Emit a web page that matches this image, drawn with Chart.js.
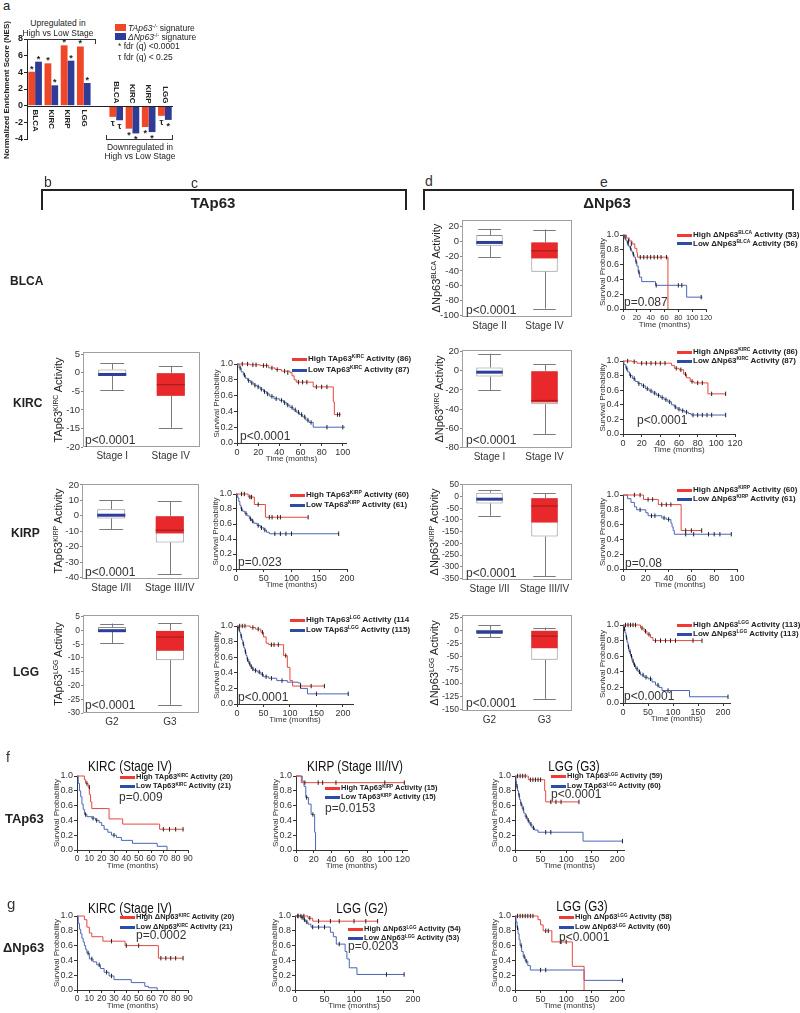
<!DOCTYPE html>
<html><head><meta charset="utf-8">
<script src="https://cdn.jsdelivr.net/npm/chart.js@4.4.0/dist/chart.umd.min.js"></script>
<style>
html,body{margin:0;padding:0;background:#fff;}
#root{position:relative;width:800px;height:1013px;overflow:hidden;font-family:"Liberation Sans",Arial,sans-serif;color:#222;background:#fff;}
canvas{position:absolute;}
.t{position:absolute;white-space:nowrap;line-height:1;}
.t sup{font-size:0.62em;vertical-align:0.55em;line-height:0;}
.br{position:absolute;box-sizing:border-box;}
</style></head><body><div id="root"></div>
<script>
// ---------------- DATA ----------------
// Panel a: NES bars
const nesCats = ['BLCA','KIRC','KIRP','LGG','','BLCA','KIRC','KIRP','LGG'];
const nesTA   = [4.07, 5.08, 7.24, 7.1, null, -1.34, -2.76, -2.56, -1.22];
const nesDN   = [5.28, 2.44, 5.4, 2.72, null, -1.75, -3.33, -3.17, -1.71];
const nesSigTA = ['*','*','*','*','','τ','*','*','τ'];
const nesSigDN = ['*','*','*','*','','τ','*','*','*'];
const nesTicks = [8,6,4,2,0,-2,-4];

// Box plots (q1, q3, median, whisker low/high, lower edge of red fill)
const tapKircLabels = ['Stage I','Stage IV'];
const tapKircQ1 = [-0.9,-6.2], tapKircQ3 = [0.9,0], tapKircMed = [-0.45,-3.2], tapKircLo = [-4.6,-14.8], tapKircHi = [2.6,1.9], tapKircFill = [null,-6.2];
const tapKircTicks = [5,0,-5,-10,-15,-20];

const tapKirpLabels = ['Stage I/II','Stage III/IV'];
const tapKirpQ1 = [-1.7,-17.2], tapKirpQ3 = [4.3,0], tapKirpMed = [0.4,-9.3], tapKirpLo = [-8.5,-37.8], tapKirpHi = [10,9.5], tapKirpFill = [null,-11.4];
const tapKirpTicks = [20,10,0,-10,-20,-30,-40];

const tapLggLabels = ['G2','G3'];
const tapLggQ1 = [-0.5,-10.8], tapLggQ3 = [1.2,0], tapLggMed = [-0.1,-2.4], tapLggLo = [-4.6,-27], tapLggHi = [2.5,2.7], tapLggFill = [null,-7.4];
const tapLggTicks = [5,0,-5,-10,-15,-20,-25,-30];

const dnBlcaLabels = ['Stage II','Stage IV'];
const dnBlcaQ1 = [-5.9,-41], dnBlcaQ3 = [8.6,-1.4], dnBlcaMed = [-1.4,-12.7], dnBlcaLo = [-21,-91], dnBlcaHi = [17,16], dnBlcaFill = [null,-23];
const dnBlcaTicks = [20,0,-20,-40,-60,-80,-100];

const dnKircLabels = ['Stage I','Stage IV'];
const dnKircQ1 = [-6,-35], dnKircQ3 = [3.5,0], dnKircMed = [-1.4,-31], dnKircLo = [-20,-66], dnKircHi = [18,7], dnKircFill = [null,-33];
const dnKircTicks = [20,0,-20,-40,-60,-80];

const dnKirpLabels = ['Stage I/II','Stage III/IV'];
const dnKirpQ1 = [-29,-171], dnKirpQ3 = [17,-7], dnKirpMed = [-11,-40], dnKirpLo = [-82,-340], dnKirpHi = [29,14], dnKirpFill = [null,-111];
const dnKirpTicks = [50,0,-50,-100,-150,-200,-250,-300,-350];

const dnLggLabels = ['G2','G3'];
const dnLggQ1 = [-7,-56], dnLggQ3 = [1,0], dnLggMed = [-3,-11], dnLggLo = [-13,-130], dnLggHi = [10,5], dnLggFill = [null,-34];
const dnLggTicks = [25,0,-25,-50,-75,-100,-125,-150];

// Kaplan-Meier curves: [time, survival]; censor marks: [time, survival]
const kmYTicks = [0,0.2,0.4,0.6,0.8,1.0];
const t0to120by20 = [0,20,40,60,80,100,120];
const t0to100by20 = [0,20,40,60,80,100];
const t0to200by50 = [0,50,100,150,200];
const t0to90by10 = [0,10,20,30,40,50,60,70,80,90];

const blcaDnHi = [[0,1],[5,0.96],[9,0.92],[13,0.88],[17,0.82],[20,0.76],[21,0.70],[65,0.70],[65,0]];
const blcaDnHiC = [[8,0.92],[12,0.88],[25,0.70],[30,0.70],[35,0.70],[40,0.70],[45,0.70],[50,0.70],[55,0.70],[63,0.70]];
const blcaDnLo = [[0,1],[2,0.97],[4,0.93],[6,0.89],[8,0.85],[10,0.82],[12,0.78],[14,0.74],[16,0.70],[18,0.64],[20,0.58],[22,0.50],[24,0.43],[27,0.37],[46,0.37],[47,0.32],[92,0.32],[92,0.16],[115,0.16]];
const blcaDnLoC = [[3,0.97],[7,0.89],[11,0.82],[15,0.74],[19,0.64],[23,0.5],[48,0.32],[80,0.32],[85,0.32],[113,0.16]];

const kircTaHi = [[0,1],[12,0.99],[22,0.98],[30,0.95],[36,0.93],[42,0.91],[50,0.89],[52,0.85],[54,0.8],[56,0.77],[70,0.77],[72,0.71],[90,0.71],[91,0.52],[92,0.36],[98,0.36]];
const kircTaHiC = [[5,1],[10,1],[15,0.99],[18,0.99],[25,0.98],[28,0.98],[33,0.95],[38,0.93],[45,0.91],[48,0.89],[58,0.77],[62,0.77],[66,0.77],[75,0.71],[80,0.71],[85,0.71],[95,0.36],[97,0.36]];
const kircTaLo = [[0,1],[2,0.95],[4,0.9],[6,0.86],[8,0.82],[10,0.79],[13,0.76],[16,0.73],[19,0.71],[22,0.68],[25,0.65],[28,0.62],[31,0.59],[35,0.56],[40,0.54],[44,0.51],[47,0.48],[50,0.45],[53,0.42],[56,0.39],[59,0.36],[62,0.33],[65,0.29],[68,0.26],[72,0.20],[102,0.20]];
const kircTaLoC = [[3,0.95],[7,0.86],[11,0.79],[14,0.76],[17,0.73],[20,0.71],[23,0.68],[26,0.65],[29,0.62],[33,0.59],[37,0.56],[42,0.54],[45,0.51],[48,0.48],[52,0.45],[55,0.42],[58,0.39],[61,0.36],[64,0.33],[67,0.29],[70,0.26],[85,0.2],[100,0.2]];

const kircDnHi = [[0,1],[10,0.99],[15,0.97],[48,0.97],[52,0.94],[55,0.9],[60,0.88],[65,0.82],[68,0.77],[72,0.72],[76,0.7],[90,0.7],[91,0.55],[110,0.55]];
const kircDnHiC = [[5,1],[12,0.99],[20,0.97],[25,0.97],[30,0.97],[35,0.97],[40,0.97],[45,0.97],[57,0.9],[62,0.88],[67,0.82],[74,0.72],[80,0.7],[85,0.7],[95,0.55],[110,0.55]];
const kircDnLo = [[0,1],[1,0.95],[3,0.9],[5,0.85],[7,0.8],[10,0.76],[13,0.72],[16,0.69],[20,0.66],[24,0.62],[28,0.59],[32,0.56],[36,0.53],[40,0.5],[44,0.47],[48,0.44],[52,0.4],[55,0.37],[58,0.34],[62,0.32],[66,0.3],[70,0.28],[73,0.26],[110,0.26]];
const kircDnLoC = [[4,0.9],[8,0.8],[12,0.76],[17,0.69],[22,0.66],[26,0.62],[30,0.59],[34,0.56],[38,0.53],[42,0.5],[46,0.47],[50,0.44],[56,0.37],[60,0.34],[64,0.32],[68,0.3],[75,0.26],[80,0.26],[85,0.26],[90,0.26],[95,0.26],[110,0.26]];

const kirpTaHi = [[0,1],[20,1],[22,0.96],[32,0.96],[33,0.86],[52,0.86],[53,0.69],[130,0.69]];
const kirpTaHiC = [[10,1],[15,1],[25,0.96],[28,0.96],[40,0.86],[60,0.69],[65,0.69],[75,0.69],[80,0.69],[130,0.69]];
const kirpTaLo = [[0,1],[3,0.95],[5,0.9],[7,0.85],[9,0.8],[12,0.77],[16,0.74],[20,0.71],[24,0.67],[28,0.64],[32,0.61],[38,0.58],[44,0.55],[50,0.52],[55,0.49],[60,0.47],[185,0.47]];
const kirpTaLoC = [[10,0.8],[18,0.74],[26,0.67],[30,0.64],[40,0.58],[46,0.55],[52,0.52],[70,0.47],[80,0.47],[90,0.47],[100,0.47],[185,0.47]];

const kirpDnHi = [[0,1],[17,1],[18,0.94],[30,0.94],[31,0.87],[50,0.87],[51,0.52],[69,0.52]];
const kirpDnHiC = [[10,1],[15,1],[22,0.94],[26,0.94],[34,0.87],[38,0.87],[42,0.87],[55,0.52],[60,0.52],[69,0.52]];
const kirpDnLo = [[0,1],[4,0.95],[7,0.9],[10,0.84],[12,0.8],[18,0.8],[20,0.76],[22,0.72],[30,0.72],[34,0.69],[38,0.67],[42,0.62],[43,0.57],[44,0.52],[45,0.47],[95,0.47]];
const kirpDnLoC = [[15,0.8],[25,0.72],[28,0.72],[36,0.69],[40,0.67],[55,0.47],[62,0.47],[75,0.47],[80,0.47],[85,0.47],[95,0.47]];

const lggTaHi = [[0,1],[20,1],[25,0.98],[35,0.96],[45,0.92],[50,0.86],[55,0.78],[60,0.76],[85,0.76],[88,0.62],[95,0.47],[100,0.3],[105,0.23],[165,0.23]];
const lggTaHiC = [[5,1],[10,1],[15,1],[30,0.98],[40,0.96],[48,0.92],[65,0.76],[70,0.76],[78,0.76],[92,0.62],[120,0.23],[140,0.23],[165,0.23]];
const lggTaLo = [[0,1],[3,0.96],[5,0.92],[7,0.87],[9,0.82],[11,0.77],[13,0.72],[15,0.67],[17,0.62],[19,0.57],[22,0.52],[25,0.48],[28,0.45],[32,0.43],[38,0.41],[45,0.38],[50,0.35],[60,0.33],[75,0.3],[95,0.28],[115,0.27],[120,0.2],[133,0.13],[210,0.13]];
const lggTaLoC = [[4,0.96],[8,0.87],[12,0.77],[16,0.67],[20,0.57],[24,0.52],[27,0.48],[30,0.45],[35,0.43],[42,0.41],[48,0.38],[55,0.35],[65,0.33],[85,0.3],[150,0.13],[210,0.13]];

const lggDnHi = [[0,1],[30,1],[35,0.96],[42,0.92],[48,0.88],[55,0.84],[60,0.8],[158,0.8]];
const lggDnHiC = [[5,1],[10,1],[15,1],[20,1],[25,1],[38,0.96],[45,0.92],[52,0.88],[65,0.8],[75,0.8],[85,0.8],[95,0.8],[105,0.8],[140,0.8],[158,0.8]];
const lggDnLo = [[0,1],[2,0.95],[4,0.9],[6,0.84],[8,0.78],[10,0.72],[12,0.66],[15,0.6],[18,0.54],[21,0.49],[25,0.44],[30,0.4],[35,0.36],[42,0.33],[50,0.31],[58,0.27],[65,0.23],[72,0.2],[78,0.16],[133,0.16],[133,0.08],[210,0.08]];
const lggDnLoC = [[3,0.95],[7,0.84],[11,0.72],[14,0.66],[17,0.6],[20,0.54],[23,0.49],[28,0.44],[33,0.4],[40,0.36],[46,0.33],[55,0.31],[70,0.23],[90,0.16],[210,0.08]];

const fKircHi = [[0,1],[5,1],[6,0.95],[7,0.9],[9,0.85],[10,0.75],[11,0.65],[12,0.56],[25,0.56],[26,0.42],[36,0.42],[37,0.35],[66,0.35],[67,0.28],[86,0.28]];
const fKircHiC = [[8,0.9],[10,0.85],[70,0.28],[75,0.28],[80,0.28],[86,0.28]];
const fKircLo = [[0,1],[1,0.9],[2,0.8],[3,0.72],[4,0.62],[5,0.55],[6,0.48],[8,0.45],[12,0.43],[15,0.4],[18,0.37],[20,0.33],[22,0.28],[25,0.24],[28,0.2],[32,0.17],[36,0.13],[45,0.09],[65,0.05],[73,0]];
const fKircLoC = [[7,0.48],[13,0.43],[16,0.4],[30,0.2]];

const fKirpHi = [[0,1],[5,1],[6,0.91],[122,0.91]];
const fKirpHiC = [[10,0.91],[25,0.91],[30,0.91],[45,0.91],[100,0.91],[122,0.91]];
const fKirpLo = [[0,1],[6,1],[7,0.93],[9,0.86],[11,0.71],[14,0.62],[17,0.48],[21,0.48],[21,0.24],[22,0]];
const fKirpLoC = [[12,0.71],[19,0.48]];

const fLggHi = [[0,1],[25,1],[26,0.95],[56,0.95],[58,0.8],[60,0.65],[125,0.65]];
const fLggHiC = [[5,1],[10,1],[15,1],[20,1],[30,0.95],[35,0.95],[40,0.95],[45,0.95],[50,0.95],[70,0.65],[80,0.65],[90,0.65],[125,0.65]];
const fLggLo = [[0,1],[2,0.93],[3,0.86],[5,0.8],[7,0.74],[9,0.68],[11,0.62],[14,0.56],[17,0.5],[20,0.45],[24,0.4],[28,0.35],[33,0.3],[38,0.27],[45,0.24],[133,0.24],[133,0.12],[210,0.12]];
const fLggLoC = [[4,0.86],[8,0.74],[12,0.62],[16,0.56],[22,0.45],[26,0.4],[31,0.35],[36,0.3],[60,0.24],[70,0.24],[210,0.12]];

const gKircHi = [[0,1],[5,1],[6,0.95],[8,0.85],[10,0.77],[12,0.72],[20,0.72],[21,0.66],[38,0.66],[39,0.6],[65,0.6],[66,0.43],[86,0.43]];
const gKircHiC = [[28,0.66],[40,0.6],[50,0.6],[68,0.43],[72,0.43],[76,0.43],[80,0.43],[86,0.43]];
const gKircLo = [[0,1],[1,0.9],[2,0.82],[3,0.76],[4,0.7],[5,0.65],[6,0.6],[7,0.55],[8,0.5],[10,0.42],[13,0.38],[16,0.34],[19,0.29],[22,0.24],[26,0.19],[30,0.14],[44,0.1],[55,0.05],[58,0.03],[65,0]];
const gKircLoC = [[9,0.5],[12,0.42],[18,0.34],[24,0.24],[28,0.19]];

const gLgg2Hi = [[0,1],[20,1],[22,0.97],[30,0.93],[140,0.93]];
const gLgg2HiC = [[5,1],[10,1],[15,1],[25,0.97],[40,0.93],[60,0.93],[75,0.93],[100,0.93],[120,0.93],[140,0.93]];
const gLgg2Lo = [[0,1],[10,0.98],[14,0.95],[18,0.92],[22,0.89],[27,0.85],[55,0.85],[60,0.78],[65,0.72],[70,0.62],[85,0.52],[88,0.42],[92,0.3],[105,0.21],[185,0.21]];
const gLgg2LoC = [[5,1],[12,0.98],[16,0.95],[20,0.92],[30,0.85],[40,0.85],[50,0.85],[75,0.62],[155,0.21],[185,0.21]];

const gLgg3Hi = [[0,1],[42,1],[45,0.95],[50,0.88],[55,0.8],[70,0.8],[72,0.65],[110,0.65],[112,0.32],[135,0.32],[135,0]];
const gLgg3HiC = [[5,1],[10,1],[15,1],[20,1],[25,1],[30,1],[35,1],[60,0.8],[65,0.8],[90,0.65],[100,0.65]];
const gLgg3Lo = [[0,1],[2,0.92],[4,0.84],[6,0.76],[8,0.68],[10,0.6],[13,0.52],[16,0.45],[20,0.39],[25,0.33],[30,0.27],[135,0.27],[135,0.13],[210,0.13]];
const gLgg3LoC = [[5,0.84],[12,0.6],[18,0.45],[22,0.39],[50,0.27],[60,0.27],[210,0.13]];

// ---------------- STYLE ----------------
const FONT = '"Liberation Sans", Arial, sans-serif';
Chart.defaults.font.family = FONT;
Chart.defaults.color = '#333';
const BAR_RED = '#ef4727', BAR_BLUE = '#2e3b97';
const BOX_RED = '#e8282b', MED_BLUE = '#2d3d9c', MED_RED = '#a81e1e';
const KM_RED = '#e8463e', KM_BLUE = '#4a66b8';
const LEG_RED = '#f03a34', LEG_BLUE = '#2c4ca8';
const root = document.getElementById('root');

function mk(area, dims, cfg){
  const yW = dims.yW, xH = dims.xH, padR = dims.padR ?? 14, padT = dims.padT ?? 8, padB = dims.padB ?? 0;
  const w = Math.round(area.r - area.l + yW + padR);
  const h = Math.round(area.b - area.t + padT + xH + padB);
  const c = document.createElement('canvas');
  c.width = w; c.height = h;
  c.style.left = (area.l - yW) + 'px'; c.style.top = (area.t - padT) + 'px';
  c.style.width = w + 'px'; c.style.height = h + 'px';
  root.appendChild(c);
  const o = cfg.options;
  o.responsive = false; o.animation = false; o.devicePixelRatio = 1; o.events = [];
  o.layout = {padding:{left:0, right:padR, top:padT, bottom:padB}};
  o.plugins = Object.assign({legend:{display:false}, tooltip:{enabled:false}}, o.plugins || {});
  if (o.scales.x.display !== false) o.scales.x.afterFit = s => { s.height = xH; };
  o.scales.y.afterFit = s => { s.width = yW; };
  return new Chart(c, cfg);
}
function setTicks(vals){ return s => { s.ticks = vals.map(v => ({value:v})); }; }
function seg(ctx, x1, y1, x2, y2){ ctx.beginPath(); ctx.moveTo(x1, y1); ctx.lineTo(x2, y2); ctx.stroke(); }

// ---------------- text helpers ----------------
function T(html, x, y, o){
  o = o || {};
  const d = document.createElement('div'); d.className = 't'; d.innerHTML = html;
  d.style.fontSize = (o.s || 10) + 'px';
  if (o.b) d.style.fontWeight = 'bold';
  if (o.c) d.style.color = o.c;
  d.style.left = x + 'px'; d.style.top = y + 'px';
  let tr = o.a === 'c' ? 'translate(-50%,-50%)' : 'translate(0,-50%)';
  if (o.rot) tr = 'translate(-50%,-50%) rotate(-90deg)';
  if (o.sx) tr += ' scaleX(' + o.sx + ')';
  d.style.transform = tr;
  root.appendChild(d);
}
function box(l, t, w, h, css){ const d = document.createElement('div'); d.className = 'br';
  d.style.cssText += `left:${l}px;top:${t}px;width:${w}px;height:${h}px;` + css; root.appendChild(d); }
function leg(x, y, col, html, sz){ box(x, y - 1.5, 15, 3, 'background:' + col + ';'); T(html, x + 16, y, {s: sz || 8, b: true, c:'#222'}); }

// ---------------- Panel a ----------------
const nesPlugin = {id:'nes', afterDatasetsDraw(ch){
  const ctx = ch.ctx, xs = ch.scales.x, ys = ch.scales.y, ca = ch.chartArea;
  const y0 = Math.round(ys.getPixelForValue(0)) + 0.5;
  ctx.save();
  ctx.strokeStyle = '#222'; ctx.lineWidth = 1; seg(ctx, ca.left, y0, ca.right, y0);
  ctx.fillStyle = '#222';
  nesCats.forEach((c, i) => {
    if (!c) return;
    const cx = xs.getPixelForValue(i), up = nesTA[i] > 0;
    ctx.save(); ctx.translate(cx, y0); ctx.rotate(Math.PI/2);
    ctx.font = 'bold 8px ' + FONT; ctx.textBaseline = 'middle';
    if (up) { ctx.textAlign = 'left'; ctx.fillText(c, 3, 0); } else { ctx.textAlign = 'right'; ctx.fillText(c, -3, 0); }
    ctx.restore();
    [0,1].forEach(d => {
      const bar = ch.getDatasetMeta(d).data[i]; const sym = (d ? nesSigDN : nesSigTA)[i];
      ctx.font = 'bold 9px ' + FONT; ctx.textAlign = 'center';
      if (up) { ctx.textBaseline = 'bottom'; ctx.fillText(sym, bar.x, bar.y + 2); }
      else { ctx.textBaseline = 'top'; ctx.fillText(sym, bar.x, bar.y + 2); }
    });
  });
  ctx.restore();
}};
mk({l:27, r:173, t:39, b:139}, {yW:27, xH:0, padR:4, padT:8, padB:8}, {type:'bar',
  data:{labels:nesCats, datasets:[
    {data:nesTA, backgroundColor:BAR_RED, barPercentage:1, categoryPercentage:0.84},
    {data:nesDN, backgroundColor:BAR_BLUE, barPercentage:1, categoryPercentage:0.84}]},
  options:{scales:{
    x:{display:false},
    y:{min:-4, max:8, afterBuildTicks:setTicks(nesTicks),
       ticks:{font:{size:9, weight:'bold'}, padding:1, color:'#222', autoSkip:false},
       grid:{display:true, drawOnChartArea:false, tickLength:3, color:'#222'}, border:{display:true, color:'#222'}}}},
  plugins:[nesPlugin]});

T('a', 3, 5, {s:13});
T('Normalized Enrichment Score (NES)', 7, 90, {s:8, b:true, rot:true});
T('Upregulated in', 58, 23, {s:8.5, a:'c'});
T('High vs Low Stage', 58, 33, {s:8.5, a:'c'});
box(27, 39, 69, 5, 'border:1px solid #333;border-bottom:none;');
box(106, 135, 67, 5, 'border:1px solid #333;border-top:none;');
T('Downregulated in', 140, 147, {s:8.5, a:'c'});
T('High vs Low Stage', 140, 156, {s:8.5, a:'c'});
box(115, 24, 11, 7, 'background:' + BAR_RED + ';');
box(115, 33, 11, 7, 'background:' + BAR_BLUE + ';');
T('<i>TAp63</i><sup>-/-</sup> signature', 128, 27.5, {s:8.5});
T('<i>ΔNp63</i><sup>-/-</sup> signature', 128, 36.5, {s:8.5});
T('* fdr (q) &lt;0.0001', 118, 46, {s:8.5});
T('τ fdr (q) &lt; 0.25', 118, 57, {s:8.5});

// ---------------- headers ----------------
T('b', 44, 182, {s:14, c:'#333'});
T('c', 191, 183, {s:14, c:'#333'});
T('d', 425, 181, {s:14, c:'#333'});
T('e', 600, 182, {s:14, c:'#333'});
box(41, 189, 366, 21, 'border:2px solid #222;border-bottom:none;');
box(423, 189, 371, 21, 'border:2px solid #222;border-bottom:none;');
T('TAp63', 213, 202, {s:15, b:true, a:'c', c:'#222'});
T('ΔNp63', 607, 202, {s:15, b:true, a:'c', c:'#222'});

T('BLCA', 10, 281, {s:12, b:true});
T('KIRC', 13, 403, {s:12, b:true});
T('KIRP', 11, 533, {s:12, b:true});
T('LGG', 13, 672, {s:12, b:true});

// ---------------- box plots ----------------
function boxPlugin(s){ return {id:'boxx', afterDatasetsDraw(ch){
  const ctx = ch.ctx, ys = ch.scales.y, ca = ch.chartArea, meta = ch.getDatasetMeta(0);
  const py = v => ys.getPixelForValue(v);
  ctx.save();
  s.labels.forEach((lab, i) => {
    const b = meta.data[i], cx = Math.round(b.x) + 0.5, hw = b.width / 2;
    ctx.strokeStyle = '#7a7a7a'; ctx.lineWidth = 1;
    seg(ctx, cx, py(s.q3[i]), cx, py(s.hi[i]));
    seg(ctx, cx, py(s.q1[i]), cx, py(s.lo[i]));
    const yh = Math.round(py(s.hi[i])) + 0.5, yl = Math.round(py(s.lo[i])) + 0.5;
    seg(ctx, b.x - hw * 0.85, yh, b.x + hw * 0.85, yh);
    seg(ctx, b.x - hw * 0.85, yl, b.x + hw * 0.85, yl);
    ctx.strokeStyle = i === 0 ? MED_BLUE : MED_RED; ctx.lineWidth = i === 0 ? 3 : 1.2;
    seg(ctx, b.x - hw, py(s.med[i]), b.x + hw, py(s.med[i]));
  });
  ctx.strokeStyle = '#a0a0a0'; ctx.lineWidth = 1;
  ctx.strokeRect(ca.left + 0.5, ca.top + 0.5, ca.right - ca.left - 1, ca.bottom - ca.top - 1);
  ctx.restore();
}};}
function boxChart(s){
  const fs = s.ticks.length > 7 ? 8.5 : 9.5;
  mk(s.area, {yW:24, xH:18, padR:6, padT:8, padB:2}, {type:'bar',
    data:{labels:s.labels, datasets:[
      {data:s.labels.map((_, i) => [s.q1[i], s.q3[i]]), backgroundColor:'#fff', borderColor:'#8c8c8c', borderWidth:1, borderSkipped:false, grouped:false, barPercentage:0.48, categoryPercentage:1, order:2},
      {data:s.labels.map((_, i) => s.fill[i] === null ? null : [s.fill[i], s.q3[i]]), backgroundColor:BOX_RED, borderWidth:0, grouped:false, barPercentage:0.48, categoryPercentage:1, order:1}]},
    options:{scales:{
      x:{ticks:{font:{size:10}, padding:3, autoSkip:false, maxRotation:0, color:'#333'}, grid:{display:false, drawTicks:false}, border:{display:false}},
      y:{min:s.min, max:s.max, afterBuildTicks:setTicks(s.ticks), ticks:{font:{size:fs}, padding:1, autoSkip:false, color:'#333'},
         grid:{display:true, drawOnChartArea:false, tickLength:2, color:'#888'}, border:{display:false}}}},
    plugins:[boxPlugin(s)]});
}
boxChart({area:{l:83, r:200, t:352, b:447}, min:-20, max:5.6, ticks:tapKircTicks, labels:tapKircLabels, q1:tapKircQ1, q3:tapKircQ3, med:tapKircMed, lo:tapKircLo, hi:tapKircHi, fill:tapKircFill});
boxChart({area:{l:82, r:199, t:484, b:579}, min:-40.9, max:20.6, ticks:tapKirpTicks, labels:tapKirpLabels, q1:tapKirpQ1, q3:tapKirpQ3, med:tapKirpMed, lo:tapKirpLo, hi:tapKirpHi, fill:tapKirpFill});
boxChart({area:{l:83, r:199, t:615, b:713}, min:-30, max:5.6, ticks:tapLggTicks, labels:tapLggLabels, q1:tapLggQ1, q3:tapLggQ3, med:tapLggMed, lo:tapLggLo, hi:tapLggHi, fill:tapLggFill});
boxChart({area:{l:462, r:572, t:220, b:317}, min:-102.3, max:29, ticks:dnBlcaTicks, labels:dnBlcaLabels, q1:dnBlcaQ1, q3:dnBlcaQ3, med:dnBlcaMed, lo:dnBlcaLo, hi:dnBlcaHi, fill:dnBlcaFill});
boxChart({area:{l:462, r:572, t:350, b:448}, min:-80.7, max:21.8, ticks:dnKircTicks, labels:dnKircLabels, q1:dnKircQ1, q3:dnKircQ3, med:dnKircMed, lo:dnKircLo, hi:dnKircHi, fill:dnKircFill});
boxChart({area:{l:462, r:572, t:484, b:580}, min:-357, max:54, ticks:dnKirpTicks, labels:dnKirpLabels, q1:dnKirpQ1, q3:dnKirpQ3, med:dnKirpMed, lo:dnKirpLo, hi:dnKirpHi, fill:dnKirpFill});
boxChart({area:{l:462, r:572, t:615, b:711}, min:-153, max:29, ticks:dnLggTicks, labels:dnLggLabels, q1:dnLggQ1, q3:dnLggQ3, med:dnLggMed, lo:dnLggLo, hi:dnLggHi, fill:dnLggFill});

T('TAp63<sup>KIRC</sup> Activity', 58, 400, {s:11, rot:true});
T('TAp63<sup>KIRP</sup> Activity', 58, 531, {s:11, rot:true});
T('TAp63<sup>LGG</sup> Activity', 58, 664, {s:11, rot:true});
T('ΔNp63<sup>BLCA</sup> Activity', 436, 268, {s:11, rot:true});
T('ΔNp63<sup>KIRC</sup> Activity', 439, 399, {s:11, rot:true});
T('ΔNp63<sup>KIRP</sup> Activity', 434, 532, {s:11, rot:true});
T('ΔNp63<sup>LGG</sup> Activity', 434, 663, {s:11, rot:true});
T('p&lt;0.0001', 85, 440, {s:12, c:'#333'});
T('p&lt;0.0001', 85, 572, {s:12, c:'#333'});
T('p&lt;0.0001', 85, 705, {s:12, c:'#333'});
T('p&lt;0.0001', 466, 310, {s:12, c:'#333'});
T('p&lt;0.0001', 466, 440, {s:12, c:'#333'});
T('p&lt;0.0001', 466, 573, {s:12, c:'#333'});
T('p&lt;0.0001', 466, 703, {s:12, c:'#333'});

// ---------------- Kaplan-Meier ----------------
function kmChart(s){
  const pts = a => a.map(p => ({x:p[0], y:p[1]}));
  const line = (d, col) => ({data:pts(d), showLine:true, stepped:'before', borderColor:col, borderWidth:1, pointRadius:0, clip:false});
  const cens = d => ({data:pts(d), showLine:false, pointStyle:'line', rotation:90, pointRadius:2.2, borderColor:'#222', borderWidth:1, clip:false});
  const ax = {display:true, drawOnChartArea:false, tickLength:3, color:'#333'};
  mk(s.area, {yW:25, xH:21}, {type:'scatter',
    data:{datasets:[cens(s.hiC), cens(s.loC), line(s.hi, KM_RED), line(s.lo, KM_BLUE)]},
    options:{scales:{
      x:{type:'linear', min:0, max:s.xmax, afterBuildTicks:setTicks(s.xt),
         ticks:{font:{size:s.xfs || 9}, padding:1, maxRotation:0, autoSkip:false, color:'#333'}, grid:ax, border:{display:true, color:'#333'},
         title:{display:true, text:'Time (months)', font:{size:8}, color:'#333', padding:{top:0, bottom:0}}},
      y:{type:'linear', min:0, max:1, afterBuildTicks:setTicks(kmYTicks),
         ticks:{font:{size:9}, padding:1, autoSkip:false, color:'#333', callback:v => Number(v).toFixed(1)}, grid:ax, border:{display:true, color:'#333'},
         title:{display:true, text:'Survival Probability', font:{size:8}, color:'#333', padding:{top:0, bottom:0}}}}}});
}
kmChart({area:{l:623, r:706, t:235, b:309}, xmax:120, xt:t0to120by20, xfs:7.5, hi:blcaDnHi, hiC:blcaDnHiC, lo:blcaDnLo, loC:blcaDnLoC});
kmChart({area:{l:237, r:346, t:364, b:443}, xmax:103, xt:t0to100by20, hi:kircTaHi, hiC:kircTaHiC, lo:kircTaLo, loC:kircTaLoC});
kmChart({area:{l:623, r:735, t:361, b:434}, xmax:120, xt:t0to120by20, hi:kircDnHi, hiC:kircDnHiC, lo:kircDnLo, loC:kircDnLoC});
kmChart({area:{l:236, r:347, t:494, b:569}, xmax:200, xt:t0to200by50, hi:kirpTaHi, hiC:kirpTaHiC, lo:kirpTaLo, loC:kirpTaLoC});
kmChart({area:{l:623, r:737, t:495, b:569}, xmax:100, xt:t0to100by20, hi:kirpDnHi, hiC:kirpDnHiC, lo:kirpDnLo, loC:kirpDnLoC});
kmChart({area:{l:237, r:353, t:626, b:704}, xmax:219, xt:t0to200by50, hi:lggTaHi, hiC:lggTaHiC, lo:lggTaLo, loC:lggTaLoC});
kmChart({area:{l:623, r:730, t:625, b:703}, xmax:214, xt:t0to200by50, hi:lggDnHi, hiC:lggDnHiC, lo:lggDnLo, loC:lggDnLoC});
kmChart({area:{l:77, r:188, t:776, b:850}, xmax:90, xt:t0to90by10, xfs:8.5, hi:fKircHi, hiC:fKircHiC, lo:fKircLo, loC:fKircLoC});
kmChart({area:{l:296, r:407, t:776, b:850}, xmax:125, xt:t0to120by20, hi:fKirpHi, hiC:fKirpHiC, lo:fKirpLo, loC:fKirpLoC});
kmChart({area:{l:515, r:624, t:776, b:850}, xmax:213, xt:t0to200by50, hi:fLggHi, hiC:fLggHiC, lo:fLggLo, loC:fLggLoC});
kmChart({area:{l:77, r:188, t:916, b:990}, xmax:90, xt:t0to90by10, xfs:8.5, hi:gKircHi, hiC:gKircHiC, lo:gKircLo, loC:gKircLoC});
kmChart({area:{l:295, r:413, t:916, b:990}, xmax:200, xt:t0to200by50, hi:gLgg2Hi, hiC:gLgg2HiC, lo:gLgg2Lo, loC:gLgg2LoC});
kmChart({area:{l:515, r:624, t:916, b:990}, xmax:213, xt:t0to200by50, hi:gLgg3Hi, hiC:gLgg3HiC, lo:gLgg3Lo, loC:gLgg3LoC});

// KM legends and p-values
leg(677, 235, LEG_RED, 'High ΔNp63<sup>BLCA</sup> Activity (53)');
leg(677, 243.5, LEG_BLUE, 'Low ΔNp63<sup>BLCA</sup> Activity (56)');
T('p=0.087', 624, 302, {s:12, c:'#333'});
leg(292, 359, LEG_RED, 'High TAp63<sup>KIRC</sup> Activity (86)');
leg(292, 370, LEG_BLUE, 'Low TAp63<sup>KIRC</sup> Activity (87)');
T('p&lt;0.0001', 240, 436, {s:12, c:'#333'});
leg(677, 352, LEG_RED, 'High ΔNp63<sup>KIRC</sup> Activity (86)');
leg(677, 361, LEG_BLUE, 'Low ΔNp63<sup>KIRC</sup> Activity (87)');
T('p&lt;0.0001', 637, 420, {s:12, c:'#333'});
leg(290, 495, LEG_RED, 'High TAp63<sup>KIRP</sup> Activity (60)');
leg(290, 505, LEG_BLUE, 'Low TAp63<sup>KIRP</sup> Activity (61)');
T('p=0.023', 238, 562, {s:12, c:'#333'});
leg(677, 490, LEG_RED, 'High ΔNp63<sup>KIRP</sup> Activity (60)');
leg(677, 499, LEG_BLUE, 'Low ΔNp63<sup>KIRP</sup> Activity (61)');
T('p=0.08', 625, 563, {s:12, c:'#333'});
leg(290, 620, LEG_RED, 'High TAp63<sup>LGG</sup> Activity (114');
leg(290, 630, LEG_BLUE, 'Low TAp63<sup>LGG</sup> Activity (115)');
T('p&lt;0.0001', 238, 697, {s:12, c:'#333'});
leg(677, 625, LEG_RED, 'High ΔNp63<sup>LGG</sup> Activity (113)');
leg(677, 634, LEG_BLUE, 'Low ΔNp63<sup>LGG</sup> Activity (113)');
T('p&lt;0.0001', 624, 696, {s:12, c:'#333'});

// ---------------- panels f and g ----------------
T('f', 6, 757, {s:14, c:'#333'});
T('g', 7, 903, {s:15, c:'#333'});
T('TAp63', 5, 818, {s:13, b:true});
T('ΔNp63', 3, 947, {s:13, b:true});
T('KIRC (Stage IV)', 130, 765, {s:15, a:'c', sx:0.78, c:'#111'});
T('KIRP (Stage III/IV)', 355, 765, {s:15, a:'c', sx:0.78, c:'#111'});
T('LGG (G3)', 574, 765, {s:15, a:'c', sx:0.78, c:'#111'});
T('KIRC (Stage IV)', 130, 907, {s:15, a:'c', sx:0.78, c:'#111'});
T('LGG (G2)', 362, 907, {s:15, a:'c', sx:0.78, c:'#111'});
T('LGG (G3)', 582, 905, {s:15, a:'c', sx:0.78, c:'#111'});

leg(120, 777, LEG_RED, 'High TAp63<sup>KIRC</sup> Activity (20)', 7.5);
leg(120, 786, LEG_BLUE, 'Low TAp63<sup>KIRC</sup> Activity (21)', 7.5);
T('p=0.009', 119, 797, {s:12, c:'#333'});
leg(325, 788, LEG_RED, 'High TAp63<sup>KIRP</sup> Activity (15)', 7.5);
leg(325, 797, LEG_BLUE, 'Low TAp63<sup>KIRP</sup> Activity (15)', 7.5);
T('p=0.0153', 325, 808, {s:12, c:'#333'});
leg(551, 776, LEG_RED, 'High TAp63<sup>LGG</sup> Activity (59)', 7.5);
leg(551, 786, LEG_BLUE, 'Low TAp63<sup>LGG</sup> Activity (60)', 7.5);
T('p&lt;0.0001', 551, 794, {s:12, c:'#333'});

leg(120, 917, LEG_RED, 'High ΔNp63<sup>KIRC</sup> Activity (20)', 7.5);
leg(120, 927, LEG_BLUE, 'Low ΔNp63<sup>KIRC</sup> Activity (21)', 7.5);
T('p=0.0002', 136, 935, {s:12, c:'#333'});
leg(348, 929, LEG_RED, 'High ΔNp63<sup>LGG</sup> Activity (54)', 7.5);
leg(348, 938, LEG_BLUE, 'Low ΔNp63<sup>LGG</sup> Activity (53)', 7.5);
T('p=0.0203', 348, 946, {s:12, c:'#333'});
leg(559, 917, LEG_RED, 'High ΔNp63<sup>LGG</sup> Activity (58)', 7.5);
leg(559, 927, LEG_BLUE, 'Low ΔNp63<sup>LGG</sup> Activity (60)', 7.5);
T('p&lt;0.0001', 559, 937, {s:12, c:'#333'});
</script></body></html>
